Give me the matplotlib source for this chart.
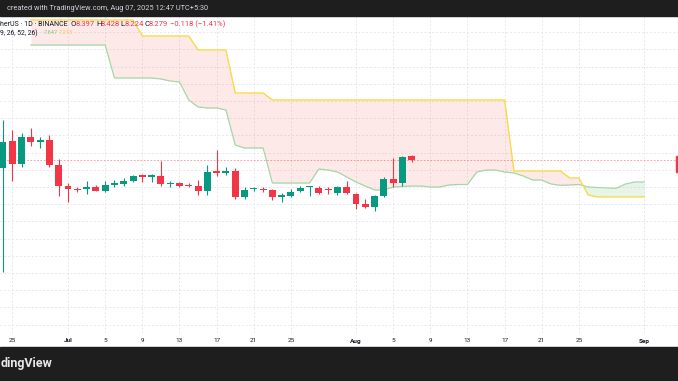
"""TradingView-style daily candles with an Ichimoku cloud (screenshot recreation)."""

import matplotlib
matplotlib.use("Agg")
import matplotlib.pyplot as plt
import matplotlib.dates as mdates
import numpy as np
import pandas as pd

plt.rcParams["font.family"] = ["Roboto", "DejaVu Sans"]

# ---------------------------------------------------------------------------
# Data
# ---------------------------------------------------------------------------
candle_start = "2025-06-24"
opens = [8.052, 8.837, 8.169, 8.962, 8.817, 8.866, 8.140, 7.529, 7.451, 7.433,
         7.491, 7.392, 7.567, 7.587, 7.674, 7.840, 7.800, 7.829, 7.578, 7.607,
         7.550, 7.530, 7.384, 7.965, 7.916, 7.965, 7.218, 7.433, 7.442, 7.413,
         7.218, 7.238, 7.375, 7.491, 7.480, 7.433, 7.334, 7.491, 7.297, 6.997,
         6.910, 7.238, 7.741, 7.608, 8.397]
highs = [9.448, 9.157, 9.078, 9.206, 8.945, 9.012, 8.305, 7.625, 7.509, 7.674,
         7.549, 7.674, 7.700, 7.753, 7.858, 7.878, 7.878, 8.265, 7.674, 7.640,
         7.607, 7.700, 8.140, 8.576, 8.090, 8.044, 7.490, 7.500, 7.509, 7.450,
         7.317, 7.433, 7.529, 7.529, 7.529, 7.491, 7.529, 7.683, 7.317, 7.142,
         7.267, 7.782, 8.334, 8.400, 8.428]
lows = [5.029, 7.683, 8.090, 8.692, 8.642, 8.073, 7.238, 7.073, 7.355, 7.288,
        7.375, 7.346, 7.490, 7.530, 7.654, 7.637, 7.650, 7.530, 7.490, 7.490,
        7.490, 7.276, 7.270, 7.820, 7.840, 7.150, 7.160, 7.384, 7.346, 7.122,
        7.073, 7.200, 7.355, 7.238, 7.297, 7.288, 7.267, 7.297, 6.852, 6.881,
        6.811, 7.218, 7.509, 7.529, 8.224]
closes = [8.817, 8.169, 8.962, 8.817, 8.866, 8.140, 7.529, 7.451, 7.413, 7.491,
          7.392, 7.558, 7.607, 7.683, 7.829, 7.800, 7.840, 7.578, 7.596, 7.530,
          7.520, 7.375, 7.945, 7.916, 7.965, 7.218, 7.413, 7.462, 7.410, 7.218,
          7.259, 7.363, 7.480, 7.509, 7.334, 7.404, 7.491, 7.317, 7.006, 6.910,
          7.238, 7.741, 7.608, 8.381, 8.279]
change_text = "\u22120.118 (\u22121.41%)"

# Ichimoku (9, 26, 52, 26) leading spans, already displaced forward
cloud_start = "2025-06-27"
span_a = [11.628, 11.628, 11.628, 11.628, 11.628, 11.628, 11.628, 11.628, 11.628,
          10.669, 10.669, 10.669, 10.669, 10.669, 10.640, 10.581, 10.552, 10.029,
          9.826, 9.797, 9.797, 9.738, 8.721, 8.634, 8.634, 8.634, 7.616, 7.616,
          7.616, 7.616, 7.616, 8.023, 7.994, 7.936, 7.791, 7.645, 7.528, 7.413,
          7.413, 7.500, 7.515, 7.528, 7.528, 7.500, 7.500, 7.558, 7.573, 7.573,
          7.936, 7.994, 7.994, 7.936, 7.907, 7.820, 7.703, 7.703, 7.587, 7.549,
          7.558, 7.573, 7.500, 7.485, 7.471, 7.462, 7.587, 7.645, 7.647]
span_b = ([12.355] * 12 + [11.890] * 6 + [11.483] * 4 + [10.233] * 4
          + [10.029] * 26 + [7.965] * 6 + [7.762, 7.762, 7.267] + [7.213] * 6)

x_ticks = ["2025-06-25", "2025-07-01", "2025-07-05", "2025-07-09", "2025-07-13",
           "2025-07-17", "2025-07-21", "2025-07-25", "2025-08-01", "2025-08-05",
           "2025-08-09", "2025-08-13", "2025-08-17", "2025-08-21", "2025-08-25",
           "2025-09-01"]
x_tick_labels = ["25", "Jul", "5", "9", "13", "17", "21", "25", "Aug", "5", "9",
                 "13", "17", "21", "25", "Sep"]

symbol_text = "herUS · 1D · BINANCE"
indicator_text = "9, 26, 52, 26)"
header_text = "created with TradingView.com, Aug 07, 2025 12:47 UTC+5:30"
footer_text = "dingView"

# ---------------------------------------------------------------------------
UP = "#089981"
DOWN = "#F23645"
SPAN_A_C = "#A5D6A7"
SPAN_B_C = "#F9DB47"
TXT = "#131722"
GRID = "#E6E8EE"
BAR_BG = "#1E1E1E"

W, H = 678, 381
fig = plt.figure(figsize=(W / 100, H / 100), dpi=100, facecolor="white")


def fx(px):
    return px / W


def fy(py):
    return 1 - py / H


ax = fig.add_axes([0, fy(333), 1, (333 - 16) / H])
ax.set_facecolor("white")
for s in ax.spines.values():
    s.set_visible(False)
ax.set_xticks([])
ax.set_yticks([])

dates = mdates.date2num(pd.date_range(candle_start, periods=len(opens)))
cdates = mdates.date2num(pd.date_range(cloud_start, periods=len(span_a)))
o, h, l, c = map(np.array, (opens, highs, lows, closes))
a, b = np.array(span_a), np.array(span_b)

x0 = dates[0]
ax.set_xlim(x0 - 0.32, x0 + 72.66)
ax.set_ylim(3.256, 12.471)

# grid
tick_nums = mdates.date2num(pd.to_datetime(x_ticks))
for t in tick_nums:
    ax.axvline(t, color=GRID, lw=0.7, ls=(0, (2, 2)), zorder=0)
for yv in np.arange(3.5, 12.01, 0.5):
    ax.axhline(yv, color=GRID, lw=0.7, ls=(0, (2, 2)), zorder=0)

# cloud
ax.fill_between(cdates, a, b, where=b >= a, interpolate=True,
                color="#F44336", alpha=0.11, lw=0, zorder=1)
ax.fill_between(cdates, a, b, where=a > b, interpolate=True,
                color="#4CAF50", alpha=0.13, lw=0, zorder=1)
ax.plot(cdates, a, color=SPAN_A_C, lw=0.9, zorder=2)
ax.plot(cdates, b, color=SPAN_B_C, lw=1.0, zorder=2)

# candles
cols = np.where(c >= o, UP, DOWN)
ax.vlines(dates, l, h, colors=cols, lw=0.8, zorder=3)
body = np.where(np.abs(c - o) < 0.03, np.sign(c - o + 1e-9) * 0.03, c - o)
ax.bar(dates, body, bottom=o, width=0.75, color=cols, lw=0, zorder=4)

# last price line + clipped price label
ax.axhline(c[-1], color=DOWN, lw=0.6, ls=(0, (2, 2)), alpha=0.55, zorder=2)
fig.patches.append(plt.Rectangle((fx(675.5), fy(172)), fx(3), (172 - 156) / H,
                                 transform=fig.transFigure, color=DOWN))

# x-axis labels
xt = ax.get_xaxis_transform()
for t, lab in zip(tick_nums, x_tick_labels):
    bold = lab in ("Jul", "Aug", "Sep")
    ax.text(t, -8 / 317, lab, transform=xt, ha="center", va="center",
            fontsize=4.6, color=TXT, fontweight="bold" if bold else "normal",
            clip_on=False)

# legend lines
fig.text(fx(0), fy(24), symbol_text, fontsize=5.0, color=TXT, va="center")
pieces = [("O", 70.5, TXT), (f"{o[-1]:.3f}", 75.5, DOWN),
          ("H", 96.5, TXT), (f"{h[-1]:.3f}", 101, DOWN),
          ("L", 120.5, TXT), (f"{l[-1]:.3f}", 124.5, DOWN),
          ("C", 144.5, TXT), (f"{c[-1]:.3f}", 149, DOWN),
          (change_text, 170, DOWN)]
for s, px, col in pieces:
    fig.text(fx(px), fy(24), s, fontsize=5.5, color=col, va="center")
fig.text(fx(0), fy(33), indicator_text, fontsize=4.9, color=TXT, va="center")
fig.text(fx(43.5), fy(33), f"{a[-1]:.3f}", fontsize=4.1, color="#81C784", va="center")
fig.text(fx(59), fy(33), f"{b[-1]:.3f}", fontsize=4.1, color="#F2C94C", va="center")

# dark header / footer bars
fig.patches.append(plt.Rectangle((0, fy(15.5)), 1, 15.5 / H,
                                 transform=fig.transFigure, color=BAR_BG))
fig.patches.append(plt.Rectangle((0, 0), 1, (H - 347) / H,
                                 transform=fig.transFigure, color=BAR_BG))
fig.text(fx(7), fy(8), header_text, fontsize=5.3, color="#D1D4DC", va="center")
fig.text(fx(0.5), fy(364), footer_text, fontsize=9, color="#E8E8E8",
         ha="left", va="center", fontweight="bold")

fig.savefig("out.png", dpi=100)
